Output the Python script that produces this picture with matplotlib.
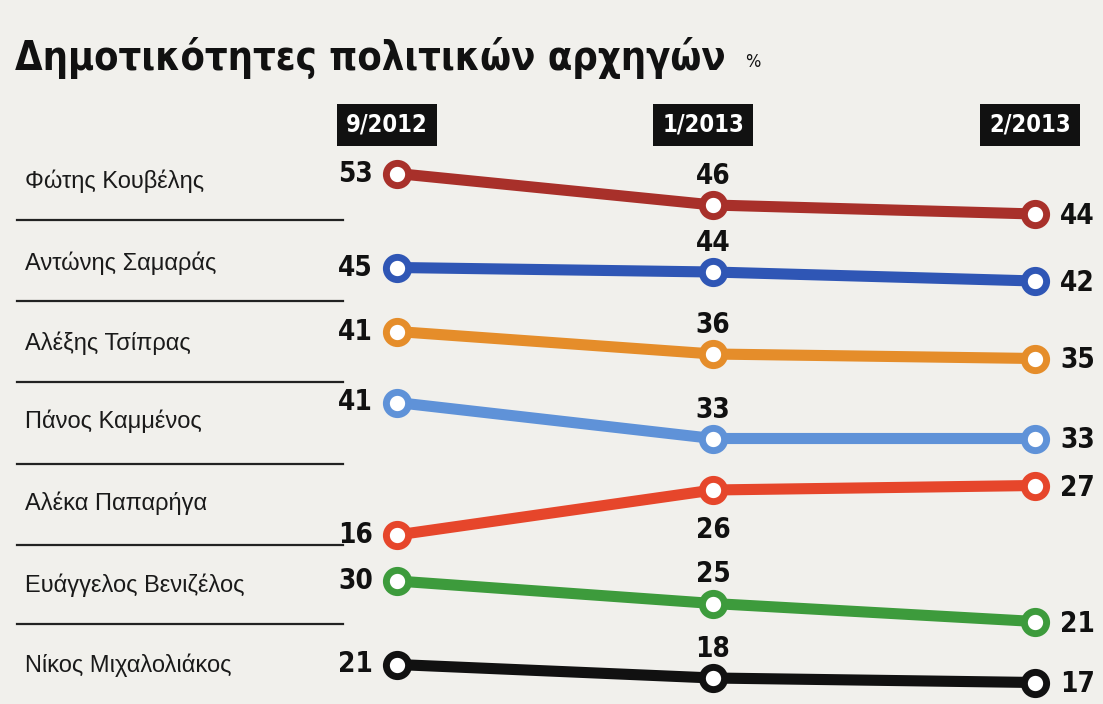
import matplotlib.pyplot as plt

names = ['Φώτης Κουβέλης', 'Αντώνης Σαμαράς', 'Αλέξης Τσίπρας', 'Πάνος Καμμένος',
         'Αλέκα Παπαρήγα', 'Ευάγγελος Βενιζέλος', 'Νίκος Μιχαλολιάκος']
periods = ['9/2012', '1/2013', '2/2013']
values = {
    'Φώτης Κουβέλης': [53, 46, 44],
    'Αντώνης Σαμαράς': [45, 44, 42],
    'Αλέξης Τσίπρας': [41, 36, 35],
    'Πάνος Καμμένος': [41, 33, 33],
    'Αλέκα Παπαρήγα': [16, 26, 27],
    'Ευάγγελος Βενιζέλος': [30, 25, 21],
    'Νίκος Μιχαλολιάκος': [21, 18, 17],
}
colors = ['#a8302a', '#2f56b5', '#e58d2a', '#5f92d8', '#e6462b', '#3d9b3c', '#111111']

# layout (pixel space): each row sits on its own band
x_pos = [397, 713, 1035]
row_base = [412, 470, 516, 587, 607, 716, 759]
scale = 4.5
name_y = [181, 263, 343, 421, 503, 585, 665]
sep_y = [220, 301, 382, 464, 545, 624]

plt.rcParams['font.family'] = ['Liberation Sans', 'DejaVu Sans']
bold = dict(family='DejaVu Sans', fontstretch='condensed', fontweight='bold')

fig = plt.figure(figsize=(11.03, 7.04), dpi=100)
fig.patch.set_facecolor('#f1f0ec')
ax = fig.add_axes([0, 0, 1, 1])
ax.set_facecolor('#f1f0ec')
ax.set_xlim(0, 1103)
ax.set_ylim(704, 0)
ax.axis('off')

ax.text(15, 58, 'Δημοτικότητες πολιτικών αρχηγών', fontsize=28.5, va='center', ha='left',
        color='#111111', **bold)
ax.text(745, 62, '%', fontsize=13, family='DejaVu Sans', fontstretch='condensed',
        va='center', ha='left', color='#111111')

for x, p in zip(x_pos, periods):
    bx = x - 10 if x < 1000 else x - 5
    ax.text(bx, 125, p, fontsize=17, color='white', ha='center', va='center',
            bbox=dict(boxstyle='square,pad=0.38', facecolor='#111111', edgecolor='none'), **bold)

for y in sep_y:
    ax.plot([17, 343], [y, y], color='#222222', lw=1.6)

for i, n in enumerate(names):
    v = values[n]
    ys = [row_base[i] - scale * val for val in v]
    c = colors[i]
    ax.text(25, name_y[i], n, fontsize=17, va='center', ha='left', color='#1a1a1a')
    ax.plot(x_pos, ys, color=c, lw=8, solid_capstyle='round', zorder=2)
    ax.plot(x_pos, ys, 'o', ms=16, mfc='white', mec=c, mew=5, zorder=3)
    ax.text(x_pos[0] - 24, ys[0], str(v[0]), fontsize=20, ha='right', va='center',
            color='#111111', **bold)
    dy = 40 if n == 'Αλέκα Παπαρήγα' else -29
    ax.text(x_pos[1], ys[1] + dy, str(v[1]), fontsize=20, ha='center', va='center',
            color='#111111', **bold)
    ax.text(x_pos[2] + 25, ys[2] + 2, str(v[2]), fontsize=20, ha='left', va='center',
            color='#111111', **bold)

plt.savefig('out.png', dpi=100, facecolor=fig.get_facecolor())
